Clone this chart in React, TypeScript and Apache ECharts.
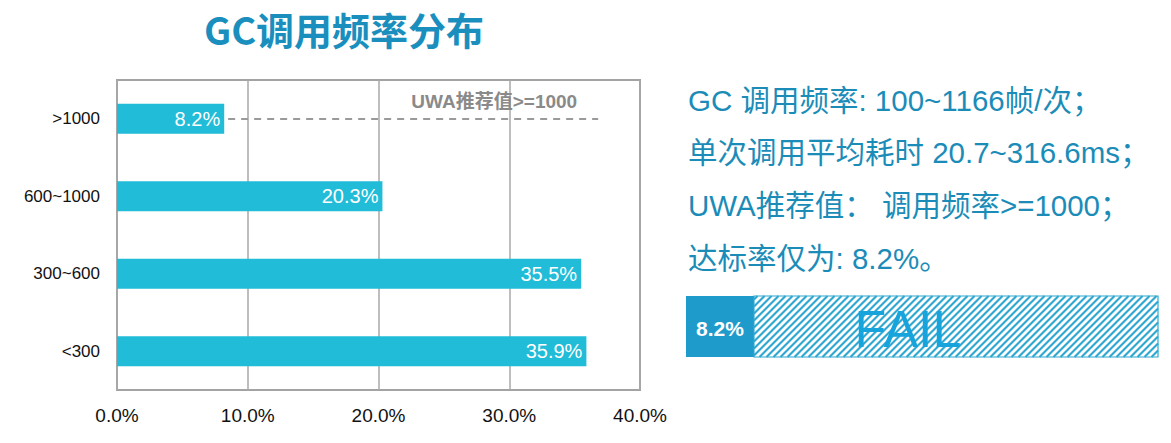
import React, { useEffect, useRef } from "react";
import * as echarts from "echarts";

const categories = ["<300", "300~600", "600~1000", ">1000"];
const shares = [35.9, 35.5, 20.3, 8.2];
const axisMin = 0;
const axisMax = 40;
const axisStep = 10;
const thresholdCategory = ">1000";
const thresholdSpan = [8.5, 36.8];
const thresholdLabel = "UWA推荐值>=1000";
const titleText = "GC调用频率分布";
const noteLines = [
  "GC 调用频率: 100~1166帧/次；",
  "单次调用平均耗时 20.7~316.6ms；",
  "UWA推荐值： 调用频率>=1000；",
  "达标率仅为: 8.2%。",
];
const passRate = "8.2%";
const failText = "FAIL";

const LATIN = '"Liberation Sans", "Noto Sans CJK SC", sans-serif';

function hatchLines(x0: number, y0: number, x1: number, y1: number, step: number) {
  const out: any[] = [];
  for (let c = x0 + y0 + step / 2; c < x1 + y1; c += step) {
    const xa = Math.max(x0, c - y1);
    const xb = Math.min(x1, c - y0);
    if (xb - xa > 0.5) {
      out.push({
        type: "line",
        silent: true,
        shape: { x1: xa, y1: c - xa, x2: xb, y2: c - xb },
        style: { stroke: "#2ea8d0", lineWidth: 2.2 },
      });
    }
  }
  return out;
}

export default function App() {
  const ref = useRef<HTMLDivElement>(null);
  useEffect(() => {
    if (!ref.current) return;
    const chart = echarts.init(ref.current, null, { renderer: "svg" });
    const hx0 = 754, hy0 = 296, hx1 = 1158, hy1 = 357;
    chart.setOption({
      animation: false,
      backgroundColor: "#ffffff",
      grid: {
        left: 117,
        top: 80,
        width: 523,
        height: 310,
        show: true,
        borderColor: "#a3a3a3",
        borderWidth: 2,
        backgroundColor: "transparent",
      },
      xAxis: {
        type: "value",
        min: axisMin,
        max: axisMax,
        interval: axisStep,
        axisLine: { show: false },
        axisTick: { show: false },
        splitLine: { show: true, lineStyle: { color: "#a8a8a8", width: 1.5 } },
        axisLabel: {
          margin: 16,
          fontSize: 19,
          color: "#111",
          fontFamily: LATIN,
          formatter: (v: number) => v.toFixed(1) + "%",
        },
      },
      yAxis: {
        type: "category",
        data: categories,
        axisLine: { show: false },
        axisTick: { show: false },
        splitLine: { show: false },
        axisLabel: { margin: 17, fontSize: 17, color: "#111", fontFamily: LATIN },
      },
      series: [
        {
          type: "bar",
          data: shares,
          barWidth: 30,
          itemStyle: { color: "#20bcd8" },
          label: {
            show: true,
            position: "insideRight",
            distance: 4,
            color: "#ffffff",
            fontSize: 20,
            fontFamily: LATIN,
            formatter: (p: any) => p.value + "%",
          },
          markLine: {
            silent: true,
            symbol: ["none", "none"],
            lineStyle: { color: "#9a9a9a", type: [7, 6], width: 2 },
            label: {
              show: true,
              position: "insideEndTop",
              distance: [21, 8],
              formatter: thresholdLabel,
              color: "#8a8a8a",
              fontSize: 19,
              fontWeight: "bold",
              fontFamily: LATIN,
            },
            data: [
              [
                { coord: [thresholdSpan[0], thresholdCategory] },
                { coord: [thresholdSpan[1], thresholdCategory] },
              ],
            ],
          },
        },
      ],
      graphic: [
        {
          type: "text",
          silent: true,
          style: {
            text: titleText,
            x: 344,
            y: 28,
            align: "center",
            verticalAlign: "middle",
            fill: "#1a8fbe",
            fontSize: 38,
            fontWeight: "bold",
            fontFamily: '"Noto Sans CJK SC", sans-serif',
          },
        },
        ...noteLines.map((t, i) => ({
          type: "text",
          silent: true,
          style: {
            text: t,
            x: 688,
            y: 100 + i * 52.7,
            align: "left",
            verticalAlign: "middle",
            fill: "#1b8cb8",
            fontSize: 29.5,
            fontFamily: LATIN,
          },
        })),
        {
          type: "rect",
          silent: true,
          shape: { x: 686, y: hy0, width: hx0 - 686, height: hy1 - hy0 },
          style: { fill: "#1f9bcb" },
        },
        {
          type: "text",
          silent: true,
          style: {
            text: passRate,
            x: 720,
            y: 328,
            align: "center",
            verticalAlign: "middle",
            fill: "#ffffff",
            fontSize: 21,
            fontWeight: "bold",
            fontFamily: LATIN,
          },
        },
        ...hatchLines(hx0, hy0, hx1, hy1, 7),
        {
          type: "rect",
          silent: true,
          shape: { x: hx0, y: hy0, width: hx1 - hx0, height: hy1 - hy0 },
          style: { fill: "none", stroke: "#2ea8d0", lineWidth: 1.2 },
        },
        {
          type: "text",
          silent: true,
          style: {
            text: failText,
            x: 908,
            y: 329,
            align: "center",
            verticalAlign: "middle",
            fill: "#17a4dc",
            fontSize: 52,
            fontFamily: LATIN,
          },
        },
      ],
    });
    return () => chart.dispose();
  }, []);
  return (
    <div
      ref={ref}
      style={{ position: "absolute", left: 0, top: 0, width: 1171, height: 443 }}
    />
  );
}
